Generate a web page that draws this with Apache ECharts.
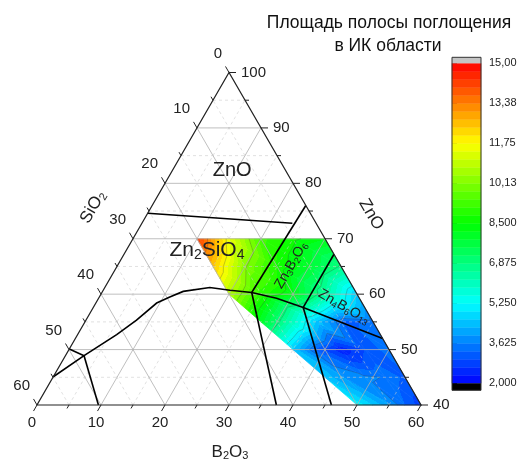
<!DOCTYPE html>
<html>
<head>
<meta charset="utf-8">
<title>Ternary ZnO-B2O3-SiO2</title>
<script src="https://cdn.jsdelivr.net/npm/echarts@6/dist/echarts.min.js"></script>
<style>html,body{margin:0;padding:0;background:#fff;}</style>
</head>
<body>
<div id="main" style="width:520px;height:461px;"></div>
<script type="text/javascript">
// measured field: rows of constant ZnO, SiO2 from its max down to 0 in 4 equal steps
var zno = [70, 65, 60, 55, 50, 45, 40];
var sio2Max = [20, 20, 20, 17.5, 15, 12.5, 10];
var area = [
    [14.3, 11.5, 9.3, 8.6, 8.2],
    [12.5, 10.2, 8.8, 7.9, 6.8],
    [10.8, 9.0, 8.2, 6.5, 4.6],
    [8.0, 6.3, 4.5, 3.2, 3.4],
    [4.6, 3.2, 2.4, 3.0, 3.5],
    [4.5, 3.9, 3.7, 3.6, 3.2],
    [5.2, 4.6, 4.0, 3.3, 2.8]
];

// tick labels
var b2o3Ticks = [0, 10, 20, 30, 40, 50, 60];
var sio2Ticks = [0, 10, 20, 30, 40, 50, 60];
var znoTicks = [40, 50, 60, 70, 80, 90, 100];
var barTicks = [2, 3.625, 5.25, 6.875, 8.5, 10.125, 11.75, 13.375, 15];

// phase boundaries, points as [B2O3, SiO2] (ZnO = rest)
var liquidus = [[0, 54.9], [2.9, 48.2], [6.1, 41.2], [7.9, 36.8], [9.5, 32.1], [11.0, 29.5],
    [12.6, 26.9], [16.4, 22.4], [19.8, 19.5], [23.4, 16.3], [27.8, 12.95], [32.8, 9.6], [48, 0]];
var boundaries = [
    [[0, 25.4], [23.5, 3.7]],
    [[24, 0], [23.4, 16.3]],
    [[23.4, 16.3], [37.4, 22.6]],
    [[32.8, 0], [32.8, 9.6]],
    [[32.8, 9.6], [46, 14]],
    [[0, 49.9], [2.9, 48.2]],
    [[2.9, 48.2], [9.6, 50.4]],
    liquidus
];

var FONT = 'Liberation Sans, Arial, sans-serif';
var VMIN = 2, VMAX = 15, NLEV = 40, STEP = (VMAX - VMIN) / NLEV;
var PALETTE = [[0, 0, 255], [0, 255, 255], [0, 255, 0], [255, 255, 0], [255, 0, 0]];
var SQ3 = Math.sqrt(3);

function tern(b, s) {
    var z = 100 - b - s;
    return [b + z / 2, z * SQ3 / 2];
}
function mapColor(t) {
    t = Math.max(0, Math.min(1, t)) * (PALETTE.length - 1);
    var i = Math.min(Math.floor(t), PALETTE.length - 2), f = t - i;
    var a = PALETTE[i], c = PALETTE[i + 1];
    return 'rgb(' + [0, 1, 2].map(function (k) { return Math.round(a[k] + (c[k] - a[k]) * f); }).join(',') + ')';
}
function band(v) {
    return Math.max(0, Math.min(NLEV - 1, Math.floor((v - VMIN) / STEP + 1e-9)));
}
function bandColor(i) { return mapColor((i + 0.5) / NLEV); }

// mesh
var nodes = [];
zno.forEach(function (z, r) {
    area[r].forEach(function (v, k) {
        var s = sio2Max[r] * (1 - k / 4);
        nodes.push({ xy: tern(100 - z - s, s), v: v });
    });
});
var tris = [];
for (var r = 0; r < zno.length - 1; r++) {
    for (var k = 0; k < 4; k++) {
        var a = r * 5 + k, b = a + 1, c = a + 5, d = c + 1;
        tris.push([a, b, d], [a, d, c]);
    }
}

function gradientFor(p, v) {
    var im = 0, iM = 0;
    for (var i = 1; i < 3; i++) { if (v[i] < v[im]) im = i; if (v[i] > v[iM]) iM = i; }
    var vmin = v[im], vmax = v[iM], dv = vmax - vmin;
    if (dv < 1e-6) return bandColor(band(vmin));
    var d1x = p[1][0] - p[0][0], d1y = p[1][1] - p[0][1];
    var d2x = p[2][0] - p[0][0], d2y = p[2][1] - p[0][1];
    var e1 = v[1] - v[0], e2 = v[2] - v[0];
    var det = d1x * d2y - d1y * d2x;
    var gx = (e1 * d2y - d1y * e2) / det, gy = (d1x * e2 - e1 * d2x) / det;
    var g2 = gx * gx + gy * gy;
    var A = p[im], B = [A[0] + gx * dv / g2, A[1] + gy * dv / g2];
    var bi = band(vmin), stops = [{ offset: 0, color: bandColor(bi) }];
    var lev = VMIN + (bi + 1) * STEP;
    while (lev < vmax && bi < NLEV - 1) {
        var off = (lev - vmin) / dv;
        stops.push({ offset: off, color: bandColor(bi) });
        bi++;
        stops.push({ offset: off, color: bandColor(bi) });
        lev += STEP;
    }
    stops.push({ offset: 1, color: bandColor(bi) });
    return new echarts.graphic.LinearGradient(A[0], A[1], B[0], B[1], stops, true);
}

// contour segments of a triangle at a level (linear field)
function contourSeg(p, v, lev) {
    var out = [];
    for (var i = 0; i < 3; i++) {
        var j = (i + 1) % 3, a = v[i] - lev, b = v[j] - lev;
        if ((a < 0 && b >= 0) || (a >= 0 && b < 0)) {
            var f = a / (a - b);
            out.push([p[i][0] + (p[j][0] - p[i][0]) * f, p[i][1] + (p[j][1] - p[i][1]) * f]);
        }
    }
    return out.length === 2 ? out : null;
}

// grid lines of the ternary, every 5 %
var gridLines = [];
for (var t = 5; t < 60; t += 5) {
    var major = t % 10 === 0;
    gridLines.push({ a: [0, 60 - t], b: [60 - t, 0], major: major });      // ZnO = 40 + t
    gridLines.push({ a: [60 - t, t], b: [0, t], major: major });           // SiO2 = t
    gridLines.push({ a: [t, 60 - t], b: [t, 0], major: major });           // B2O3 = t
}

var myChart = echarts.init(document.getElementById('main'));

function P(api, b, s) { return api.coord(tern(b, s)); }
function txt(x, y, text, opt) {
    opt = opt || {};
    return {
        type: 'text', x: x, y: y, rotation: opt.rot || 0,
        style: {
            text: text, fontFamily: FONT, fontSize: opt.size || 15, fill: opt.color || '#222',
            align: opt.align || 'center', verticalAlign: 'middle', rich: opt.rich
        }
    };
}
function chem(size, color) {
    return {
        n: { fontSize: size, fontFamily: FONT, color: color, lineHeight: size + 2 },
        s: { fontSize: Math.round(size * 0.65), fontFamily: FONT, color: color, verticalAlign: 'bottom', lineHeight: Math.round(size * 0.5) }
    };
}

function renderFrame(params, api) {
    var ch = [];
    var bl = P(api, 0, 60), br = P(api, 60, 0), top = P(api, 0, 0);
    ch.push({ type: 'polygon', shape: { points: [bl, br, top] }, style: { fill: 'none', stroke: '#222', lineWidth: 1.2 } });
    for (var t = 0; t <= 60; t += 5) {
        var len = t % 10 === 0 ? 7 : 4, p;
        p = P(api, t, 60 - t);
        ch.push({ type: 'line', shape: { x1: p[0], y1: p[1], x2: p[0] - 0.5 * len, y2: p[1] + 0.866 * len }, style: { stroke: '#222', lineWidth: 1 } });
        p = P(api, 0, t);
        ch.push({ type: 'line', shape: { x1: p[0], y1: p[1], x2: p[0] - 0.5 * len, y2: p[1] - 0.866 * len }, style: { stroke: '#222', lineWidth: 1 } });
        p = P(api, t, 0);
        ch.push({ type: 'line', shape: { x1: p[0], y1: p[1], x2: p[0] + len, y2: p[1] }, style: { stroke: '#222', lineWidth: 1 } });
    }
    b2o3Ticks.forEach(function (v) {
        var p = P(api, v, 60 - v);
        ch.push(txt(p[0] - 5, p[1] + 18, String(v)));
    });
    sio2Ticks.forEach(function (v) {
        var p = P(api, 0, v);
        ch.push(txt(p[0] - 7, p[1] - 19, String(v), { align: 'right' }));
    });
    znoTicks.forEach(function (v) {
        var p = P(api, 100 - v, 0);
        ch.push(txt(p[0] + 12, p[1], String(v), { align: 'left' }));
    });
    var q;
    q = P(api, -9.1, 33.4);
    ch.push(txt(q[0], q[1], '{n|SiO}{s|2}', { rot: Math.PI / 3, rich: chem(17, '#222') }));
    q = P(api, 35.0, -9.4);
    ch.push(txt(q[0], q[1], 'ZnO', { rot: -Math.PI / 3, size: 17 }));
    q = P(api, 34.4, 34.1);
    ch.push(txt(q[0], q[1], '{n|B}{s|2}{n|O}{s|3}', { rich: chem(17, '#222') }));
    // phase fields
    q = P(api, 9.3, 8.3);
    ch.push(txt(q[0], q[1], 'ZnO', { size: 20 }));
    q = P(api, 12.6, 19.5);
    ch.push(txt(q[0], q[1], '{n|Zn}{s|2}{n|SiO}{s|4}', { rich: chem(21, '#111') }));
    q = P(api, 27.1, 7.7);
    ch.push(txt(q[0], q[1], '{n|Zn}{s|3}{n|B}{s|2}{n|O}{s|6}', { rot: Math.PI / 3, rich: chem(14, 'rgba(0,0,0,0.72)') }));
    q = P(api, 39.1, 3.2);
    ch.push(txt(q[0], q[1], '{n|Zn}{s|4}{n|B}{s|6}{n|O}{s|13}', { rot: -Math.PI / 6, rich: chem(14, 'rgba(0,0,0,0.72)') }));
    return { type: 'group', children: ch };
}

var option = {
    animation: false,
    grid: [
        { left: 37, top: 72.5, width: 384, height: 332.5 },
        { left: 452, top: 63.3, width: 29, height: 320 }
    ],
    xAxis: [
        { gridIndex: 0, type: 'value', min: 20, max: 80, show: false },
        { gridIndex: 1, type: 'value', min: 0, max: 1, show: false }
    ],
    yAxis: [
        { gridIndex: 0, type: 'value', min: 40 * SQ3 / 2, max: 100 * SQ3 / 2, show: false },
        {
            gridIndex: 1, type: 'value', min: VMIN, max: VMAX, position: 'right',
            axisLine: { show: false }, splitLine: { show: false },
            axisTick: { show: true, length: 5, customValues: barTicks, lineStyle: { color: '#333' } },
            axisLabel: {
                customValues: barTicks, margin: 8, fontSize: 11, color: '#222', fontFamily: FONT,
                formatter: function (v) { return v.toPrecision(4).replace('.', ','); }
            }
        }
    ],
    graphic: [
        { type: 'text', x: 389, y: 23, style: { text: 'Площадь полосы поглощения', fontFamily: FONT, fontSize: 17.5, fill: '#111', align: 'center', verticalAlign: 'middle' } },
        { type: 'text', x: 388, y: 46, style: { text: 'в ИК области', fontFamily: FONT, fontSize: 17.5, fill: '#111', align: 'center', verticalAlign: 'middle' } }
    ],
    series: [
        {
            type: 'custom', name: 'field', xAxisIndex: 0, yAxisIndex: 0,
            data: tris.map(function (tr) { return nodes[tr[0]].xy; }),
            renderItem: function (params, api) {
                var tr = tris[params.dataIndex];
                var pts = tr.map(function (i) { return api.coord(nodes[i].xy); });
                var vals = tr.map(function (i) { return nodes[i].v; });
                var fill = gradientFor(pts, vals);
                var ch = [{ type: 'polygon', shape: { points: pts }, style: { fill: fill, stroke: fill, lineWidth: 0.7 } }];
                barTicks.forEach(function (lev) {
                    var seg = contourSeg(pts, vals, lev);
                    if (seg) ch.push({ type: 'line', z2: 5, shape: { x1: seg[0][0], y1: seg[0][1], x2: seg[1][0], y2: seg[1][1] }, style: { stroke: 'rgba(60,60,60,0.35)', lineWidth: 0.8 } });
                });
                return { type: 'group', children: ch };
            }
        },
        {
            type: 'custom', name: 'grid', xAxisIndex: 0, yAxisIndex: 0,
            data: gridLines.map(function (g) { return tern(g.a[0], g.a[1]); }),
            renderItem: function (params, api) {
                var g = gridLines[params.dataIndex];
                var p1 = P(api, g.a[0], g.a[1]), p2 = P(api, g.b[0], g.b[1]);
                return {
                    type: 'line', shape: { x1: p1[0], y1: p1[1], x2: p2[0], y2: p2[1] },
                    style: g.major ? { stroke: 'rgba(175,175,175,0.8)', lineWidth: 1 }
                        : { stroke: 'rgba(200,200,200,0.55)', lineWidth: 1, lineDash: [3, 3] }
                };
            }
        },
        {
            type: 'custom', name: 'boundaries', xAxisIndex: 0, yAxisIndex: 0,
            data: boundaries.map(function (l) { return tern(l[0][0], l[0][1]); }),
            renderItem: function (params, api) {
                var pts = boundaries[params.dataIndex].map(function (q) { return P(api, q[0], q[1]); });
                return { type: 'polyline', shape: { points: pts }, style: { fill: 'none', stroke: '#000', lineWidth: 1.6 } };
            }
        },
        {
            type: 'custom', name: 'frame', xAxisIndex: 0, yAxisIndex: 0,
            data: [tern(0, 0)],
            renderItem: renderFrame
        },
        {
            type: 'custom', name: 'colorbar', xAxisIndex: 1, yAxisIndex: 1,
            data: Array.apply(null, { length: NLEV }).map(function (_, i) { return [0.5, VMIN + (i + 0.5) * STEP]; }),
            renderItem: function (params, api) {
                var i = params.dataIndex, lo = VMIN + i * STEP;
                var p1 = api.coord([0, lo + STEP]), p2 = api.coord([1, lo]);
                var col = bandColor(i);
                return { type: 'rect', shape: { x: p1[0], y: p1[1], width: p2[0] - p1[0], height: p2[1] - p1[1] }, style: { fill: col, stroke: col, lineWidth: 0.5 } };
            }
        },
        {
            type: 'custom', name: 'colorbarEnds', xAxisIndex: 1, yAxisIndex: 1,
            data: [[0.5, VMAX]],
            renderItem: function (params, api) {
                var pt = api.coord([0, VMAX]), pb = api.coord([1, VMIN]);
                var w = pb[0] - pt[0];
                return {
                    type: 'group', children: [
                        { type: 'rect', shape: { x: pt[0], y: pt[1] - 6, width: w, height: 6 }, style: { fill: '#c4c4c4' } },
                        { type: 'rect', shape: { x: pt[0], y: pb[1], width: w, height: 7 }, style: { fill: '#000' } },
                        { type: 'rect', shape: { x: pt[0], y: pt[1] - 6, width: w, height: pb[1] - pt[1] + 13 }, style: { fill: 'none', stroke: '#333', lineWidth: 1 } }
                    ]
                };
            }
        }
    ]
};
myChart.setOption(option);
</script>
</body>
</html>
